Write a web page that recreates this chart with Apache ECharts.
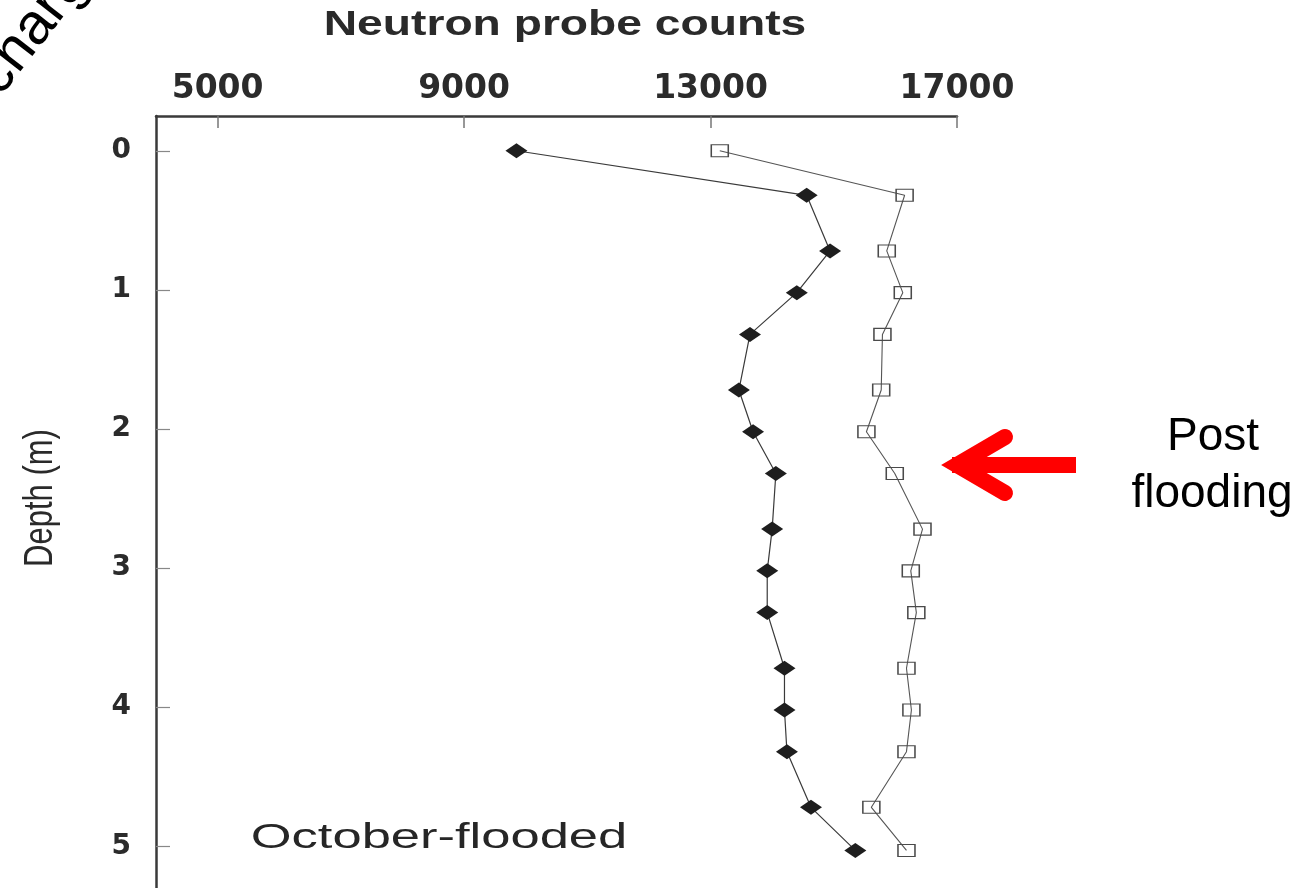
<!DOCTYPE html>
<html>
<head>
<meta charset="utf-8">
<script src="https://cdn.jsdelivr.net/npm/echarts@6/dist/echarts.min.js"></script>
<style>
html,body{margin:0;padding:0;background:#fff;}
#chart{width:1307px;height:888px;}
</style>
</head>
<body>
<div id="chart"></div>
<script>
// Depth (m) of each reading
var depths = [0, 0.32, 0.72, 1.02, 1.32, 1.72, 2.02, 2.32, 2.72, 3.02, 3.32, 3.72, 4.02, 4.32, 4.72, 5.03];
// Filled diamonds
var diamondCounts = [9850, 14560, 14940, 14400, 13640, 13460, 13690, 14060, 14000, 13920, 13920, 14200, 14200, 14240, 14630, 15350];
// Open squares
var squareCounts = [13150, 16150, 15860, 16120, 15790, 15770, 15530, 15990, 16440, 16250, 16340, 16180, 16260, 16180, 15610, 16180];
// Tick labels
var xTicks = [5000, 9000, 13000, 17000];
var yTicks = [0, 1, 2, 3, 4, 5];

var chart = echarts.init(document.getElementById('chart'), null, {renderer: 'canvas'});

function pairs(vals) {
  return vals.map(function (v, i) { return [v, depths[i]]; });
}

var option = {
  animation: false,
  backgroundColor: '#ffffff',
  grid: {left: 156, top: 116, width: 801, height: 781, containLabel: false},
  xAxis: {
    type: 'value',
    position: 'top',
    min: 4000,
    max: 17000,
    splitLine: {show: false},
    axisLine: {show: true, onZero: false, lineStyle: {color: '#3a3a3a', width: 2.5}},
    axisTick: {show: true, inside: true, length: 12, customValues: xTicks, lineStyle: {color: '#777', width: 1.5}},
    axisLabel: {
      customValues: xTicks,
      formatter: function (v) { return String(v); },
      fontFamily: 'DejaVu Sans', fontWeight: 'bold', fontSize: 33, color: '#2b2b2b', margin: 10
    }
  },
  yAxis: {
    type: 'value',
    inverse: true,
    min: -0.25,
    max: 5.3,
    splitLine: {show: false},
    axisLine: {show: true, onZero: false, lineStyle: {color: '#3a3a3a', width: 2.5}},
    axisTick: {show: true, inside: true, length: 14, customValues: yTicks, lineStyle: {color: '#888', width: 1.2}},
    axisLabel: {
      customValues: yTicks,
      formatter: function (v) { return String(v); },
      fontFamily: 'DejaVu Sans', fontWeight: 'bold', fontSize: 28, color: '#2b2b2b', margin: 25
    }
  },
  series: [
    {
      type: 'line',
      data: pairs(diamondCounts),
      symbol: 'diamond',
      symbolSize: [22, 15],
      showSymbol: true,
      clip: false,
      itemStyle: {color: '#1e1e1e'},
      lineStyle: {color: '#3a3a3a', width: 1.2},
      emphasis: {disabled: true},
      z: 3
    },
    {
      type: 'line',
      data: pairs(squareCounts),
      symbol: 'rect',
      symbolSize: [17, 12],
      showSymbol: true,
      clip: false,
      itemStyle: {color: 'rgba(255,255,255,0)', borderColor: '#4a4a4a', borderWidth: 1.3},
      lineStyle: {color: '#555', width: 1.1},
      emphasis: {disabled: true},
      z: 2
    }
  ],
  graphic: [
    {
      type: 'text', x: 565, y: 25, scaleX: 1.32,
      style: {text: 'Neutron probe counts', x: 0, y: 0, align: 'center', verticalAlign: 'middle',
        font: 'bold 35px "Liberation Sans", Arial, sans-serif', fill: '#2a2a2a'}
    },
    {
      type: 'text', x: 439, y: 838, scaleX: 1.5,
      style: {text: 'October-flooded', x: 0, y: 0, align: 'center', verticalAlign: 'middle',
        font: '35px "Liberation Sans", Arial, sans-serif', fill: '#262626'}
    },
    {
      type: 'text', x: 41, y: 498, rotation: Math.PI / 2, scaleY: 1.3,
      style: {text: 'Depth (m)', x: 0, y: 0, align: 'center', verticalAlign: 'middle',
        font: '31px "Liberation Sans", Arial, sans-serif', fill: '#2a2a2a'}
    },
    {
      type: 'text', x: 1213, y: 437,
      style: {text: 'Post', x: 0, y: 0, align: 'center', verticalAlign: 'middle',
        font: '46px "Liberation Sans", Arial, sans-serif', fill: '#000'}
    },
    {
      type: 'text', x: 1212, y: 494,
      style: {text: 'flooding', x: 0, y: 0, align: 'center', verticalAlign: 'middle',
        font: '46px "Liberation Sans", Arial, sans-serif', fill: '#000'}
    },
    {
      type: 'text', x: -58, y: 146, rotation: 52 * Math.PI / 180,
      style: {text: 'Recharge', x: 0, y: 0, align: 'left', verticalAlign: 'middle',
        font: '58px "Liberation Sans", Arial, sans-serif', fill: '#000'}
    },
    {
      type: 'line',
      shape: {x1: 952, y1: 465, x2: 1076, y2: 465},
      style: {stroke: '#ff0000', lineWidth: 16, lineCap: 'butt'}
    },
    {
      type: 'polyline',
      shape: {points: [[1005, 437], [957, 465], [1005, 493]]},
      style: {stroke: '#ff0000', lineWidth: 16, lineCap: 'round', lineJoin: 'miter', fill: null}
    }
  ]
};
chart.setOption(option);
</script>
</body>
</html>
